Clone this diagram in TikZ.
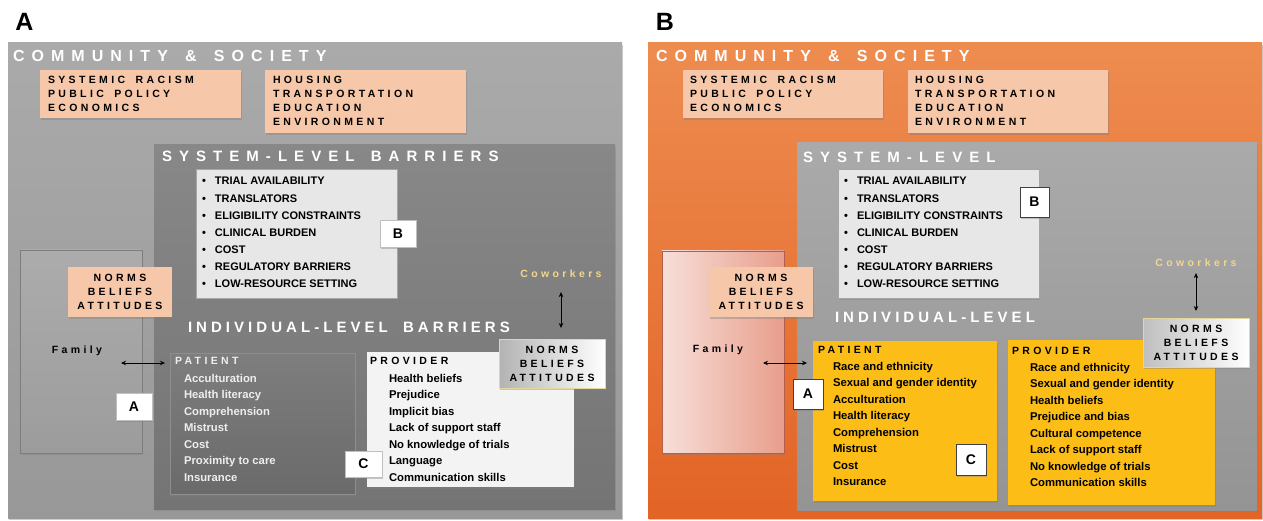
\documentclass[tikz,border=0pt]{standalone}
\usepackage{fontspec}
\setmainfont{Liberation Sans}
\newfontfamily\widesp[LetterSpace=44,WordSpace=1.5]{Liberation Sans}
\newfontfamily\sysp[LetterSpace=47,WordSpace=1.45]{Liberation Sans}
\newfontfamily\midsp[LetterSpace=27,WordSpace=1.85]{Liberation Sans}
\newfontfamily\tagsp[LetterSpace=32,WordSpace=1.67]{Liberation Sans}
\usetikzlibrary{arrows.meta,shadows,fit}

\definecolor{commhi}{RGB}{170,170,170}
\definecolor{commlo}{RGB}{152,152,152}
\definecolor{syshiA}{RGB}{136,136,136}
\definecolor{sysloA}{RGB}{116,116,116}
\definecolor{pathiA}{RGB}{126,126,126}
\definecolor{patloA}{RGB}{106,106,106}
\definecolor{patedge}{RGB}{142,142,142}
\definecolor{famhi}{RGB}{172,172,172}
\definecolor{famlo}{RGB}{156,156,156}
\definecolor{famedge}{RGB}{125,125,125}
\definecolor{patwhite}{RGB}{238,238,238}
\definecolor{provwhite}{RGB}{243,243,243}
\definecolor{listgray}{RGB}{231,231,231}
\definecolor{peach}{RGB}{246,199,168}
\definecolor{normsedge}{RGB}{228,214,160}
\definecolor{cowyellow}{RGB}{242,214,138}
\definecolor{orangehi}{RGB}{238,140,80}
\definecolor{orangemid}{RGB}{241,122,42}
\definecolor{orangelo}{RGB}{226,100,38}
\definecolor{syshiB}{RGB}{170,170,170}
\definecolor{sysloB}{RGB}{148,148,148}
\definecolor{pinkhi}{RGB}{247,223,216}
\definecolor{pinklo}{RGB}{232,158,140}
\definecolor{pinkedge}{RGB}{180,95,75}
\definecolor{amber}{RGB}{251,189,22}

\begin{document}
\begin{tikzpicture}[x=1pt,y=-1pt,
  every node/.style={inner sep=0pt,outer sep=0pt},
  area/.style={fit={#1}},
  soft/.style={drop shadow={shadow xshift=1.2pt,shadow yshift=-1.8pt,opacity=.4}},
  plabel/.style={font=\bfseries\fontsize{25}{25}\selectfont},
  head/.style={anchor=base west,text=white,font=\widesp\bfseries\fontsize{16}{18}\selectfont},
  subhead/.style={anchor=base west,text=white,font=\sysp\bfseries\fontsize{15}{18}\selectfont},
  indhead/.style={anchor=base west,text=white,font=\midsp\bfseries\fontsize{15}{18}\selectfont},
  tag/.style={font=\tagsp\bfseries\fontsize{10.5}{14}\selectfont},
  peachbox/.style={fill=peach,soft},
  norms/.style={tag,align=center,minimum width=106,minimum height=50},
  item/.style={anchor=base west,font=\bfseries\fontsize{11.3}{13}\selectfont},
  sysitem/.style={anchor=base west,font=\bfseries\fontsize{11}{13}\selectfont},
  letterbox/.style={fill=white,soft,font=\bfseries\fontsize{14}{14}\selectfont},
  link/.style={{Stealth[length=5pt,width=4.5pt]}-{Stealth[length=5pt,width=4.5pt]},line width=.8pt}
]
\useasboundingbox (0,0) rectangle (1263,521);

% ---- left panel, grey ----
\node[plabel] (labA) at (24.5,21.5) {A};
\node[area={(8,43) (622,518)},top color=commhi,bottom color=commlo,soft] (commA) {};
\node[head] (commtA) at (13,62) {COMMUNITY \& SOCIETY};
\node[area={(40,70) (241,118)},peachbox] (peach1A) {};
\node[tag,anchor=base west,align=left] (peacht1A) at (48,112) {SYSTEMIC RACISM\\PUBLIC POLICY\\ECONOMICS};
\node[area={(265,70) (466,133)},peachbox] (peach2A) {};
\node[tag,anchor=base west,align=left] (peacht2A) at (273,126) {HOUSING\\TRANSPORTATION\\EDUCATION\\ENVIRONMENT};

\node[area={(154,145) (615,509)},top color=syshiA,bottom color=sysloA,soft] (sysA) {};
\node[subhead] (systA) at (162,161.5) {SYSTEM-LEVEL BARRIERS};
\node[area={(196,169) (397,298)},fill=listgray,draw=gray!70,soft] (listA) {};
\foreach \t [count=\i from 0] in {TRIAL AVAILABILITY,TRANSLATORS,ELIGIBILITY CONSTRAINTS,
    CLINICAL BURDEN,COST,REGULATORY BARRIERS,LOW-RESOURCE SETTING}
  \node[sysitem] (listA\i) at (202,{185+17.15*\i}) {\makebox[13pt][l]{\textbullet}\t};
\node[letterbox,draw=gray!50,minimum width=36,minimum height=27] (tagBA) at (398,233.5) {B};

\node[area={(20,250) (142,453)},top color=famhi,bottom color=famlo,draw=famedge,soft] (famA) {};
\node[peachbox,norms,minimum width=104] (normsLA) at (120,292) {NORMS\\BELIEFS\\ATTITUDES};
\node[tag,anchor=base] (famtA) at (77,353) {Family};

\node[indhead] (indtA) at (188,332) {INDIVIDUAL-LEVEL BARRIERS};

\node[area={(170,353) (355,494)},top color=pathiA,bottom color=patloA,draw=patedge,line width=.5pt,soft] (patA) {};
\node[tag,anchor=base west,text=patwhite] (pattA) at (175,364) {PATIENT};
\foreach \t [count=\i from 0] in {Acculturation,Health literacy,Comprehension,Mistrust,
    Cost,Proximity to care,Insurance}
  \node[item,text=patwhite] (patA\i) at (184,{382+16.5*\i}) {\t};

\node[area={(367,352) (574,487)},fill=provwhite,soft] (provA) {};
\node[tag,anchor=base west] (provtA) at (370,364) {PROVIDER};
\foreach \t [count=\i from 0] in {Health beliefs,Prejudice,Implicit bias,Lack of support staff,
    No knowledge of trials,Language,Communication skills}
  \node[item] (provA\i) at (389,{382+16.5*\i}) {\t};

\node[letterbox,draw=gray!50,minimum width=37,minimum height=26] (tagCA) at (363.5,464) {C};
\node[letterbox,draw=gray!50,minimum width=36,minimum height=27] (tagAA) at (134,406.5) {A};

\coordinate (famtipA) at (121,363);
\draw[link,shorten >=5pt] (famtipA) -- (patA.west |- famtipA);

\node[left color=gray!60,right color=white,draw=normsedge,line width=.8pt,soft,norms,
  minimum height=49] (normsRA) at (552,363.5) {NORMS\\BELIEFS\\ATTITUDES};
\node[tag,anchor=base,text=cowyellow] (cowA) at (561,277) {Coworkers};
\draw[link,shorten <=15pt,shorten >=11pt] (cowA.south) -- (cowA.south |- normsRA.north);

% ---- right panel, orange ----
\node[plabel] (labB) at (665,21.5) {B};
\node[area={(648,43) (1262,518)},top color=orangehi,middle color=orangemid,bottom color=orangelo,soft] (commB) {};
\node[head] (commtB) at (656,62) {COMMUNITY \& SOCIETY};
\node[area={(683,70) (883,118)},peachbox] (peach1B) {};
\node[tag,anchor=base west,align=left] (peacht1B) at (690,112) {SYSTEMIC RACISM\\PUBLIC POLICY\\ECONOMICS};
\node[area={(908,70) (1108,133)},peachbox] (peach2B) {};
\node[tag,anchor=base west,align=left] (peacht2B) at (915,126) {HOUSING\\TRANSPORTATION\\EDUCATION\\ENVIRONMENT};

\node[area={(797,143) (1257,510)},top color=syshiB,bottom color=sysloB,soft] (sysB) {};
\node[subhead] (systB) at (803,163) {SYSTEM-LEVEL};
\node[area={(838,169) (1039,298)},fill=listgray,draw=gray!70,soft] (listB) {};
\foreach \t [count=\i from 0] in {TRIAL AVAILABILITY,TRANSLATORS,ELIGIBILITY CONSTRAINTS,
    CLINICAL BURDEN,COST,REGULATORY BARRIERS,LOW-RESOURCE SETTING}
  \node[sysitem] (listB\i) at (844,{185+17.15*\i}) {\makebox[13pt][l]{\textbullet}\t};
\node[letterbox,draw=black!75,line width=.7pt,minimum width=29,minimum height=30] (tagBB) at (1034.5,202) {B};

\node[area={(662,251) (784,453)},left color=pinkhi,right color=pinklo,draw=pinkedge,soft] (famB) {};
\node[peachbox,norms,minimum width=104] (normsLB) at (761,292) {NORMS\\BELIEFS\\ATTITUDES};
\node[tag,anchor=base] (famtB) at (718,352) {Family};

\node[indhead] (indtB) at (835,322) {INDIVIDUAL-LEVEL};

\node[area={(813,341) (997,501)},fill=amber,soft] (patB) {};
\node[tag,anchor=base west] (pattB) at (818,353) {PATIENT};
\foreach \t [count=\i from 0] in {Race and ethnicity,Sexual and gender identity,Acculturation,
    Health literacy,Comprehension,Mistrust,Cost,Insurance}
  \node[item] (patB\i) at (833,{370+16.57*\i}) {\t};

\node[area={(1008,340) (1215,505)},fill=amber,soft] (provB) {};
\node[tag,anchor=base west] (provtB) at (1012,354) {PROVIDER};
\foreach \t [count=\i from 0] in {Race and ethnicity,Sexual and gender identity,Health beliefs,
    Prejudice and bias,Cultural competence,Lack of support staff,No knowledge of trials,Communication skills}
  \node[item] (provB\i) at (1030,{371+16.57*\i}) {\t};

\node[letterbox,draw=black!75,line width=.7pt,minimum width=30,minimum height=30] (tagAB) at (808,394) {A};
\node[letterbox,draw=black!75,line width=.7pt,minimum width=30,minimum height=31] (tagCB) at (971,459.5) {C};

\coordinate (famtipB) at (763,363);
\draw[link,shorten >=6pt] (famtipB) -- (patB.west |- famtipB);

\node[left color=gray!50,right color=white,draw=normsedge,line width=.8pt,soft,norms,
  minimum height=49] (normsRB) at (1196,342.5) {NORMS\\BELIEFS\\ATTITUDES};
\node[tag,anchor=base,text=cowyellow] (cowB) at (1196,266) {Coworkers};
\draw[link,shorten <=7pt,shorten >=7pt] (cowB.south) -- (cowB.south |- normsRB.north);
\end{tikzpicture}
\end{document}
